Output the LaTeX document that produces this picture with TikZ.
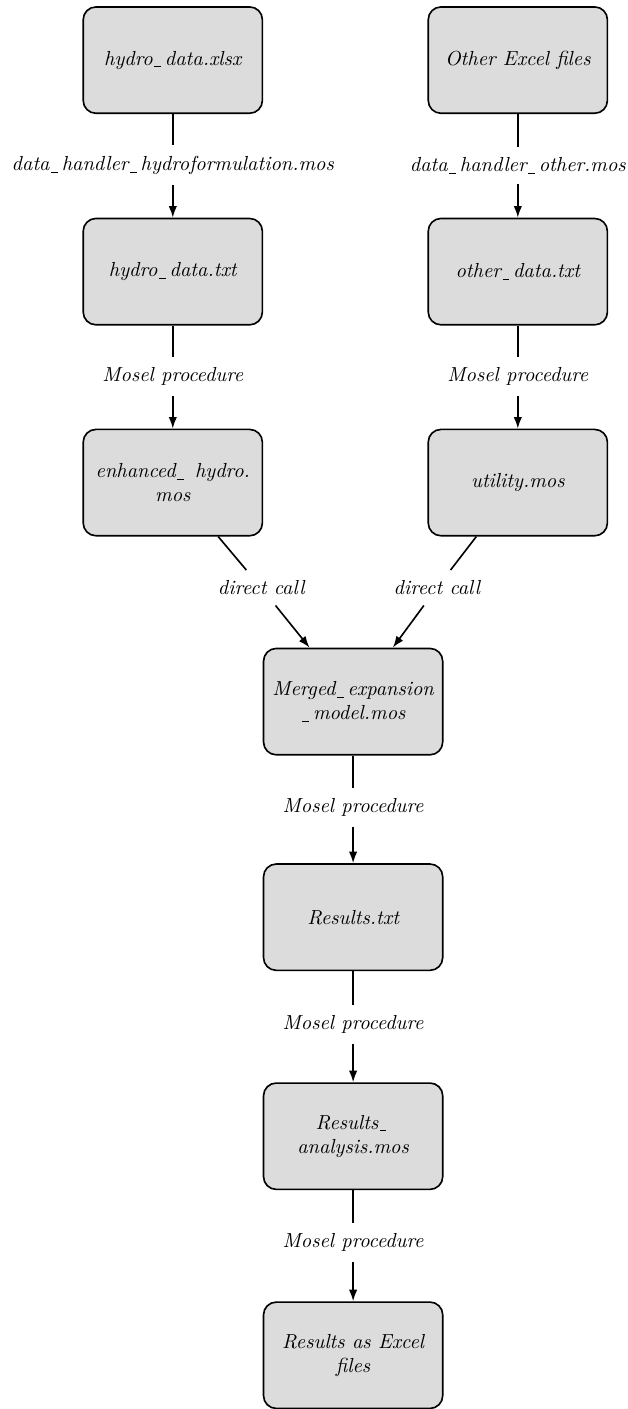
\documentclass[tikz,border=0pt]{standalone}
\usepackage[dvipsnames]{xcolor}
\usepackage{tikz}
\usepackage{amsmath}
\usetikzlibrary{arrows.meta}

\definecolor{boxgray}{RGB}{220,220,220}
% short underscore bar
\newcommand{\ubar}{\leavevmode\kern.08em\lower.25ex\vbox{\hrule width.32em}\kern.2em}

\begin{document}
\begin{tikzpicture}[
        file/.style={draw, thick, rounded corners=0.22cm, fill=boxgray, minimum width=3.1cm, minimum height=1.84cm, align=center, font=\itshape},
        proc/.style={inner sep=5pt, font=\itshape},
        link/.style={thick},
        tip/.style={-{Latex[length=2mm, width=1.45mm]}}
    ]

        \useasboundingbox (0,0) rectangle (10.85,-24.38);

        % left column
        \node[file] (hxlsx) at (2.99,-1.04) {hydro\ubar data.xlsx};
        \node[file] (htxt) at (2.99,-4.70) {hydro\ubar data.txt};
        \node[file] (hmos) at (2.99,-8.35) {enhanced\ubar{} hydro.\\ mos};

        % right column
        \node[file] (oxlsx) at (8.96,-1.04) {Other Excel files};
        \node[file] (otxt) at (8.96,-4.70) {other\ubar data.txt};
        \node[file] (umos) at (8.96,-8.35) {utility.mos};

        % middle column
        \node[file] (merged) at (6.11,-12.14) {Merged\ubar expansion\\ \ubar model.mos};
        \node[file] (restxt) at (6.11,-15.87) {Results.txt};
        \node[file] (resmos) at (6.11,-19.66) {Results\ubar\\ analysis.mos};
        \node[file] (resxls) at (6.11,-23.45) {Results as Excel\\ files};

        % labels on the links
        \node[proc] (dhh) at (2.99,-2.86) {data\ubar handler\ubar hydroformulation.mos};
        \node[proc] (dho) at (8.96,-2.86) {data\ubar handler\ubar other.mos};
        \node[proc] (mpl) at (2.99,-6.52) {Mosel procedure};
        \node[proc] (mpr) at (8.96,-6.52) {Mosel procedure};
        \node[proc] (dcl) at (4.52,-10.17) {direct call};
        \node[proc] (dcr) at (7.56,-10.17) {direct call};
        \node[proc] (mp1) at (6.11,-13.97) {Mosel procedure};
        \node[proc] (mp2) at (6.11,-17.72) {Mosel procedure};
        \node[proc] (mp3) at (6.11,-21.50) {Mosel procedure};

        \draw[link] (hxlsx) -- (dhh);
        \draw[link, tip] (dhh) -- (htxt);
        \draw[link] (htxt) -- (mpl);
        \draw[link, tip] (mpl) -- (hmos);

        \draw[link] (oxlsx) -- (dho);
        \draw[link, tip] (dho) -- (otxt);
        \draw[link] (otxt) -- (mpr);
        \draw[link, tip] (mpr) -- (umos);

        \draw[link] (hmos) -- (dcl);
        \draw[link, tip] (dcl) -- (merged);
        \draw[link] (umos) -- (dcr);
        \draw[link, tip] (dcr) -- (merged);

        \draw[link] (merged) -- (mp1);
        \draw[link, tip] (mp1) -- (restxt);
        \draw[link] (restxt) -- (mp2);
        \draw[link, tip] (mp2) -- (resmos);
        \draw[link] (resmos) -- (mp3);
        \draw[link, tip] (mp3) -- (resxls);

    \end{tikzpicture}
\end{document}
